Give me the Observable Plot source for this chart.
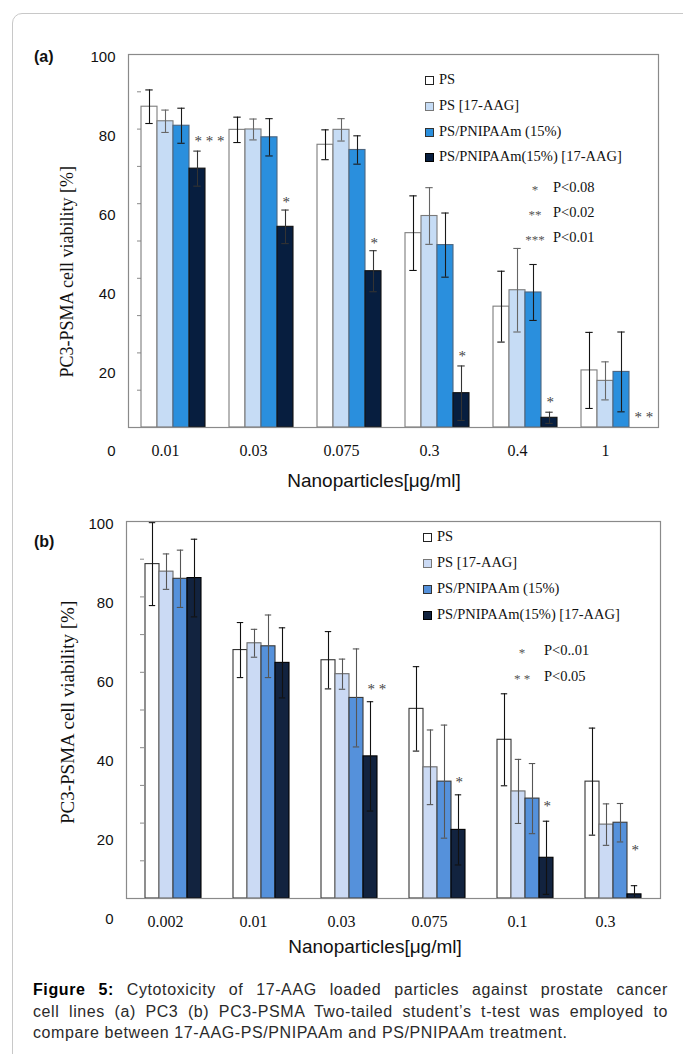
<!DOCTYPE html>
<html><head><meta charset="utf-8">
<script src="https://cdn.jsdelivr.net/npm/d3@7"></script>
<script src="https://cdn.jsdelivr.net/npm/@observablehq/plot@0.6"></script>
<style>
body{margin:0;background:#fff;}
#fig{position:relative;width:683px;height:1054px;overflow:hidden;font-family:"Liberation Sans",Arial,sans-serif;color:#111;}
#fig svg{position:absolute;left:0;}
.t{position:absolute;white-space:nowrap;}
.border{position:absolute;left:12px;top:13px;width:720px;height:1100px;border:1px solid #c8c8c8;border-radius:10px;pointer-events:none;}
.cap{position:absolute;left:33px;width:635px;font-size:16px;letter-spacing:0.6px;line-height:21.5px;color:#2a2a2a;white-space:nowrap;}
.just{text-align:justify;text-align-last:justify;}
</style></head>
<body><div id="fig"></div>
<script>
// ---------- data ----------
const series = ["PS", "PS [17-AAG]", "PS/PNIPAAm (15%)", "PS/PNIPAAm(15%) [17-AAG]"];
const yTickValues = [0, 10, 20, 30, 40, 50, 60, 70, 80, 90, 100];
const yLabelValues = [0, 20, 40, 60, 80, 100];

// panel (a) PC3
const catsA = ["0.01", "0.03", "0.075", "0.3", "0.4", "1"];
const psA = [86.0, 79.8, 75.8, 52.1, 32.4, 15.3];
const psAErr = [4.5, 3.4, 4.0, 10.0, 9.5, 10.2];
const ps17A = [82.1, 79.9, 79.8, 56.7, 36.8, 12.5];
const ps17AErr = [3.0, 2.8, 3.0, 7.6, 11.2, 5.1];
const pniA = [80.9, 77.8, 74.4, 48.9, 36.2, 14.9];
const pniAErr = [4.7, 5.0, 3.8, 8.6, 7.5, 10.7];
const pni17A = [69.4, 53.8, 41.9, 9.2, 2.6, null];
const pni17AErr = [4.7, 4.5, 5.5, 7.3, 1.5, null];
const sigCatsA = ["0.01", "0.03", "0.075", "0.3", "0.4", "1"];
const sigLabelsA = ["* * *", "*", "*", "*", "*", "* *"];
const sigYA = [77.5, 61.1, 50.1, 19.8, 7.5, 3.5];
const pLegendA = [["*", "P<0.08"], ["**", "P<0.02"], ["***", "P<0.01"]];

// panel (b) PC3-PSMA
const catsB = ["0.002", "0.01", "0.03", "0.075", "0.1", "0.3"];
const psB = [88.7, 65.9, 63.2, 50.3, 42.1, 31.0];
const psBErr = [11.0, 7.3, 7.6, 11.2, 12.2, 14.2];
const ps17B = [86.7, 67.7, 59.5, 34.8, 28.4, 19.6];
const ps17BErr = [4.7, 3.7, 4.0, 9.9, 8.5, 5.5];
const pniB = [84.8, 66.9, 53.2, 31.0, 26.5, 20.1];
const pniBErr = [7.6, 8.3, 13.0, 15.0, 9.3, 5.1];
const pni17B = [85.0, 62.5, 37.7, 18.2, 10.8, 1.1];
const pni17BErr = [10.3, 9.3, 14.5, 9.3, 9.7, 2.3];
const sigCatsB = ["0.03", "0.075", "0.1", "0.3"];
const sigLabelsB = ["* *", "*", "*", "*"];
const sigYB = [56.4, 31.7, 25.4, 13.7];
const pLegendB = [["*", "P<0..01"], ["* *", "P<0.05"]];

// ---------- styles ----------
const colorsA = ["#ffffff", "#c6dcf5", "#2a8fdd", "#071e3f"];
const strokesA = ["#7d7d7d", "#7a7a7a", "#4c6680", "#111111"];
const errA = ["#111111", "#666666", "#1a1a1a", "#333333"];
const colorsB = ["#ffffff", "#cbdaf4", "#5591db", "#12233f"];
const strokesB = ["#333333", "#6a6a6a", "#3a3a3a", "#000000"];
const errB = ["#111111", "#555555", "#555555", "#111111"];

const fig = document.getElementById("fig");

function text(str, x, y, size, css = "", anchor = "start") {
  const d = document.createElement("div");
  d.className = "t";
  d.textContent = str;
  d.style.fontSize = size + "px";
  d.style.lineHeight = (size * 1.2) + "px";
  d.style.left = x + "px";
  d.style.top = (y - size * 0.6) + "px";
  if (anchor === "middle") d.style.transform = "translateX(-50%)";
  if (anchor === "end") d.style.transform = "translateX(-100%)";
  d.style.cssText += css;
  fig.appendChild(d);
  return d;
}

function panel(cfg) {
  const vals = cfg.vals, errs = cfg.errs;
  const rows = cfg.cats.flatMap((c, i) => series.map((s, j) => ({cat: c, series: s, v: vals[j][i], e: errs[j][i]})))
    .filter(d => d.v != null);
  const sig = cfg.sigCats.map((c, i) => ({cat: c, label: cfg.sigLabels[i], y: cfg.sigY[i]}));
  const common = {width: 683, height: cfg.height, marginTop: cfg.mt, marginBottom: cfg.mb, marginLeft: cfg.ml, marginRight: cfg.mr};
  const marks = [
    Plot.axisY({ticks: yTickValues, tickSize: 4, tickFormat: () => "", stroke: "#8a8a8a", label: null}),
    Plot.axisFx({anchor: "bottom", tickSize: 0, tickPadding: 17, label: null, dx: -8, fontSize: 16})
  ];
  series.forEach((s, j) => {
    marks.push(Plot.barY(rows.filter(d => d.series === s), {fx: "cat", x: "series", y: "v", fill: cfg.colors[j], stroke: cfg.strokes[j], strokeWidth: 1.1}));
  });
  series.forEach((s, j) => {
    const r = rows.filter(d => d.series === s && d.e != null);
    marks.push(Plot.ruleX(r, {fx: "cat", x: "series", y1: d => Math.max(0, d.v - d.e), y2: d => d.v + d.e, stroke: cfg.errColors[j], strokeWidth: 1.1}));
    marks.push(Plot.tickY(r, {fx: "cat", x: "series", y: d => d.v + d.e, stroke: cfg.errColors[j], insetLeft: cfg.capInset, insetRight: cfg.capInset, strokeWidth: 1.1}));
    marks.push(Plot.tickY(r.filter(d => d.v - d.e > 0), {fx: "cat", x: "series", y: d => d.v - d.e, stroke: cfg.errColors[j], insetLeft: cfg.capInset, insetRight: cfg.capInset, strokeWidth: 1.1}));
  });
  marks.push(Plot.text(sig, {fx: "cat", x: () => series[3], y: "y", text: "label", textAnchor: "start", dx: -3, dy: 3, fill: "#444", fontSize: 15}));

  const main = Plot.plot({
    ...common,
    fx: {domain: cfg.cats, paddingInner: cfg.padIn, paddingOuter: cfg.padOut, label: null},
    x: {domain: series, padding: 0, axis: null},
    y: {domain: [0, 100]},
    style: {fontFamily: "'Liberation Serif','Times New Roman',serif", fontSize: "16px", color: "#111", background: "transparent", overflow: "visible"},
    marks
  });
  main.style.top = cfg.top + "px";
  fig.appendChild(main);

  const over = Plot.plot({
    ...common,
    y: {domain: [0, 100], range: cfg.labelRange},
    style: {fontFamily: "'Liberation Sans',Arial,sans-serif", fontSize: "15px", color: "#111", background: "transparent", overflow: "visible"},
    marks: [
      Plot.frame({stroke: "#8a8a8a", strokeWidth: 1.2}),
      Plot.axisY({ticks: yLabelValues, tickSize: 0, tickPadding: 13, label: null})
    ]
  });
  over.style.top = cfg.top + "px";
  fig.appendChild(over);
}

panel({cats: catsA, vals: [psA, ps17A, pniA, pni17A], errs: [psAErr, ps17AErr, pniAErr, pni17AErr],
  colors: colorsA, strokes: strokesA, errColors: errA, sigCats: sigCatsA, sigLabels: sigLabelsA, sigY: sigYA,
  top: 0, height: 470, mt: 54, mb: 43, ml: 128, mr: 25, padIn: 0.272, padOut: 0.144, capInset: 4.3,
  labelRange: [451, 57]});

panel({cats: catsB, vals: [psB, ps17B, pniB, pni17B], errs: [psBErr, ps17BErr, pniBErr, pni17BErr],
  colors: colorsB, strokes: strokesB, errColors: errB, sigCats: sigCatsB, sigLabels: sigLabelsB, sigY: sigYB,
  top: 490, height: 450, mt: 31, mb: 42, ml: 126, mr: 23, padIn: 0.337, padOut: 0.176, capInset: 3.8,
  labelRange: [429, 34]});

// panel letters
text("(a)", 34, 57, 16, "font-weight:bold;");
text("(b)", 34, 542, 16, "font-weight:bold;");

// axis titles
text("Nanoparticles[μg/ml]", 374, 481, 19, "", "middle");
text("Nanoparticles[μg/ml]", 375, 947, 19, "", "middle");
function ytitle(x, y, size) {
  const d = text("PC3-PSMA cell viability [%]", x, y, size, "font-family:'Liberation Serif','Times New Roman',serif;");
  d.style.transform = "translate(-50%,0) rotate(-90deg)";
  d.style.transformOrigin = "50% 50%";
}
ytitle(68, 272, 18);
ytitle(68, 712, 19);

// legends
function legend(x, ys, colors, strokes) {
  series.forEach((s, j) => {
    const sw = document.createElement("div");
    sw.style.cssText = `position:absolute;left:${x}px;top:${ys[j] - 4}px;width:7px;height:7px;background:${colors[j]};border:1px solid ${strokes[j]};`;
    fig.appendChild(sw);
    text(s, x + 14, ys[j], 14.5, "font-family:'Liberation Serif','Times New Roman',serif;");
  });
}
legend(425, [80, 106, 132, 157], colorsA, ["#222", "#777", "#333", "#000"]);
legend(423, [537, 563, 589, 615], colorsB, ["#222", "#777", "#333", "#000"]);

function pLegend(list, starX, textX, ys) {
  list.forEach(([st, p], i) => {
    text(st, starX, ys[i] + 2, 13, "font-family:'Liberation Serif',serif;color:#555;", "middle");
    text(p, textX, ys[i], 14.5, "font-family:'Liberation Serif','Times New Roman',serif;");
  });
}
pLegend(pLegendA, 535, 553, [188, 213, 238]);
pLegend(pLegendB, 522, 544, [651, 677]);

// caption
const cap = document.createElement("div");
cap.innerHTML =
  '<div class="cap just" style="top:979px;"><b style="color:#000">Figure 5:</b> Cytotoxicity of 17-AAG loaded particles against prostate cancer</div>' +
  '<div class="cap just" style="top:1000.5px;">cell lines (a) PC3 (b) PC3-PSMA Two-tailed student’s t-test was employed to</div>' +
  '<div class="cap" style="top:1022px;">compare between 17-AAG-PS/PNIPAAm and PS/PNIPAAm treatment.</div>';
fig.appendChild(cap);

// figure border
const b = document.createElement("div");
b.className = "border";
fig.appendChild(b);
</script></body></html>
